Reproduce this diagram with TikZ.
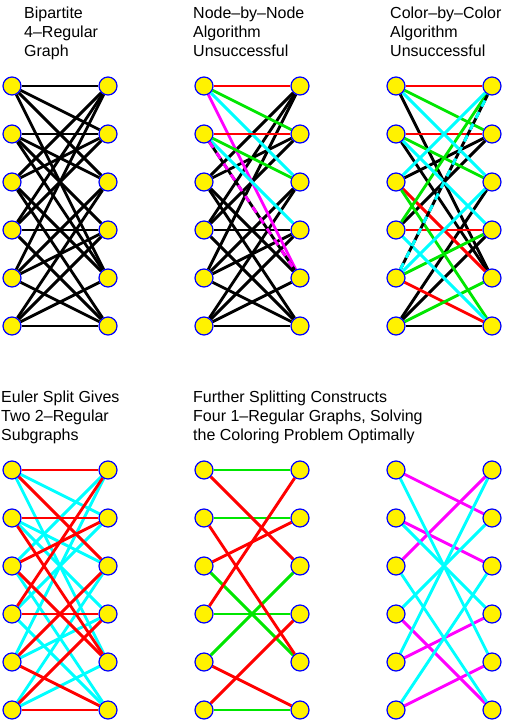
\documentclass[tikz,border=0pt]{standalone}
\usepackage{fontspec}
\setmainfont{Liberation Sans}
\usetikzlibrary{positioning}
\pgfdeclarelayer{back}
\pgfsetlayers{back,main}
\definecolor{egreen}{RGB}{0,230,0}
\definecolor{ecyan}{RGB}{0,255,255}
\definecolor{emagenta}{RGB}{255,0,255}
\definecolor{ered}{RGB}{255,0,0}
\tikzset{
  vert/.style={circle, draw=blue, fill=yellow, line width=1.2pt, minimum size=18pt, inner sep=0pt},
  edge/.style={line width=2.9pt},
  caption/.style={font=\fontsize{16}{19}\selectfont, align=left, anchor=north west, inner sep=0pt}
}

\begin{document}
\begin{tikzpicture}[x=1pt,y=-1pt]
  \useasboundingbox (0,0) rectangle (511,720);

  % captions
  \node [caption] (capa) at (24,7) {Bipartite\\4--Regular\\Graph};
  \node [caption] (capb) at (193,7) {Node--by--Node\\Algorithm\\Unsuccessful};
  \node [caption] (capc) at (390,7) {Color--by--Color\\Algorithm\\Unsuccessful};
  \node [caption] (capd) at (1,391) {Euler Split Gives\\Two 2--Regular\\Subgraphs};
  \node [caption] (cape) at (193,391) {Further Splitting Constructs\\Four 1--Regular Graphs, Solving\\the Coloring Problem Optimally};

  % vertices: six graphs, left column l, right column r
  \foreach \g/\x/\y in {a/12/86, b/204/86, c/396/86, d/12/470, e/204/470, f/396/470} {
    \foreach \i in {1,...,6} {
      \node [vert] (\g l\i) at (\x, \y+48*\i-48) {};
      \node [vert] (\g r\i) at (\x+96, \y+48*\i-48) {};
    }
  }

  \begin{pgfonlayer}{back}
    % bipartite 4-regular graph
    \foreach \i/\j in {1/1,1/2,1/3,1/5,2/2,2/3,2/4,2/5,3/1,3/2,3/5,3/6,
                       4/1,4/2,4/4,4/6,5/1,5/3,5/4,5/6,6/3,6/4,6/5,6/6}
      \draw [edge] (al\i) -- (ar\j);

    % node-by-node
    \foreach \i/\j in {3/1,3/2,3/5,3/6,4/1,4/2,4/4,4/6,5/1,5/3,5/4,5/6,6/3,6/4,6/5,6/6}
      \draw [edge] (bl\i) -- (br\j);
    \foreach \i/\j/\c in {1/1/ered,1/2/egreen,1/3/ecyan,1/5/emagenta,2/2/ered,2/3/egreen,2/4/ecyan}
      \draw [edge, \c] (bl\i) -- (br\j);
    \draw [edge] (bl2) -- (br5);
    \draw [edge, emagenta, dash pattern=on 7pt off 6pt] (bl2) -- (br5);

    % color-by-color
    \foreach \i/\j in {1/5,2/5,3/2,4/2,6/3,6/4,6/6}
      \draw [edge] (cl\i) -- (cr\j);
    \foreach \i/\j/\c in {1/1/ered,2/2/ered,3/5/ered,4/4/ered,5/6/ered,
                          1/2/egreen,2/3/egreen,3/6/egreen,4/1/egreen,5/4/egreen,6/5/egreen,
                          1/3/ecyan,2/4/ecyan,3/1/ecyan,4/6/ecyan,5/3/ecyan}
      \draw [edge, \c] (cl\i) -- (cr\j);
    \draw [edge] (cl5) -- (cr1);
    \draw [edge, ecyan, dash pattern=on 7pt off 6pt] (cl5) -- (cr1);

    % euler split
    \foreach \i/\j in {1/2,2/3,3/1,4/6,5/4,6/5,1/5,2/4,3/6,4/2,5/1,6/3}
      \draw [edge, ecyan] (dl\i) -- (dr\j);
    \foreach \i/\j in {1/1,2/2,3/5,4/4,5/3,6/6,1/3,2/5,3/2,4/1,5/6,6/4}
      \draw [edge, ered] (dl\i) -- (dr\j);

    % four matchings
    \foreach \i/\j in {1/1,2/2,3/5,4/4,5/3,6/6}
      \draw [edge, egreen] (el\i) -- (er\j);
    \foreach \i/\j in {1/3,2/5,3/2,4/1,5/6,6/4}
      \draw [edge, ered] (el\i) -- (er\j);
    \foreach \i/\j in {1/2,2/3,3/1,4/6,5/4,6/5}
      \draw [edge, emagenta] (fl\i) -- (fr\j);
    \foreach \i/\j in {1/5,2/4,3/6,4/2,5/1,6/3}
      \draw [edge, ecyan] (fl\i) -- (fr\j);
  \end{pgfonlayer}
\end{tikzpicture}
\end{document}
